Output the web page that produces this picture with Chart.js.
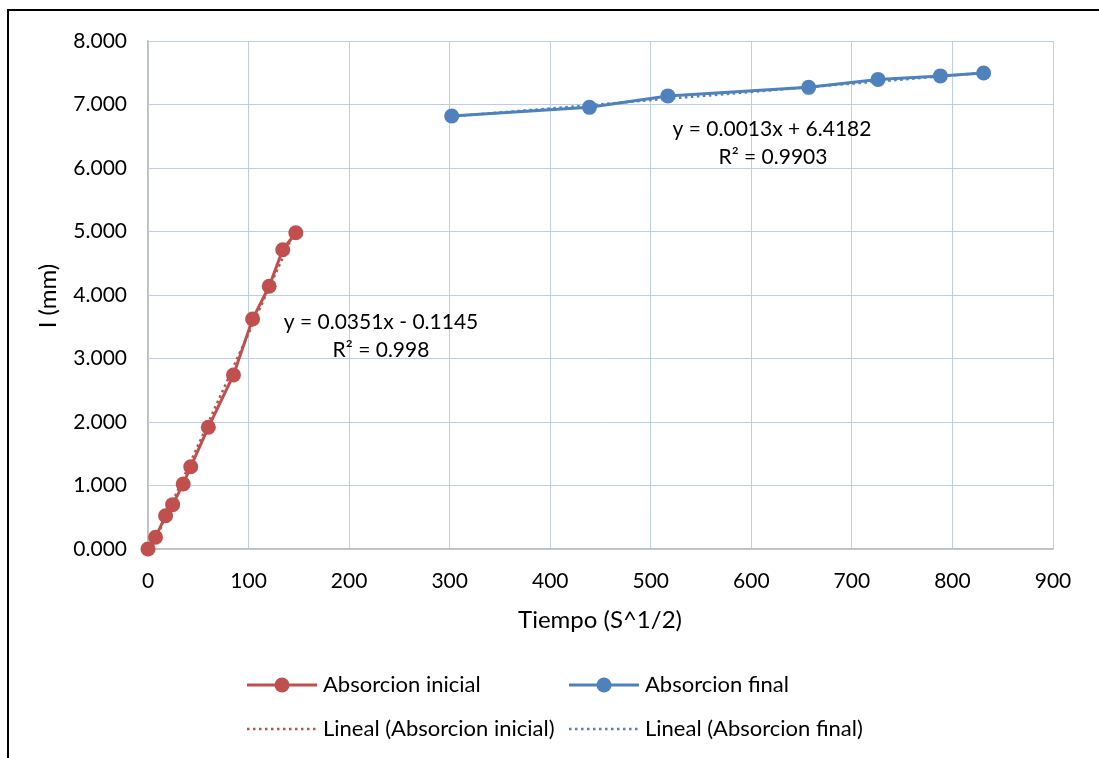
<!DOCTYPE html>
<html>
<head>
<meta charset="utf-8">
<script src="https://cdn.jsdelivr.net/npm/chart.js@4.4.0/dist/chart.umd.min.js"></script>
<style>
    html, body { margin: 0; padding: 0; background: #fff; }
    #wrap { width: 1099px; height: 758px; }
</style>
</head>
<body>
<div id="wrap"><canvas id="chart" width="1099" height="758"></canvas></div>
<script>
// Tiempo (S^1/2) and I (mm)
const initialX = [0, 7.5, 17.5, 24.5, 35, 42.5, 60, 85, 104, 120.5, 134, 147]
const initialY = [0.000, 0.184, 0.524, 0.698, 1.024, 1.296, 1.917, 2.740, 3.622, 4.137, 4.713, 4.980]
const finalX = [302, 439, 517, 657, 726, 788, 831]
const finalY = [6.820, 6.955, 7.135, 7.270, 7.395, 7.450, 7.495]

// trendline end points (from the equations shown on the chart)
const trendInitialX = [0, 147]
const trendInitialY = [-0.1145, 5.045]
const trendFinalX = [302, 831]
const trendFinalY = [6.811, 7.499]

const xTicks = [0, 100, 200, 300, 400, 500, 600, 700, 800, 900]
const yTicks = [0, 1, 2, 3, 4, 5, 6, 7, 8]

const seriesNames = ['Absorcion inicial', 'Absorcion final', 'Lineal (Absorcion inicial)', 'Lineal (Absorcion final)']
const equations = [
    ['y = 0.0351x - 0.1145', 'R\u00b2 = 0.998'],
    ['y = 0.0013x + 6.4182', 'R\u00b2 = 0.9903']
]

const RED = '#C0504D'
const BLUE = '#4F81BD'
const GRID = '#bccfe7'
const FONT = 'Lato'

function toPoints(xs, ys) {
    return xs.map((x, i) => ({ x: x, y: ys[i] }))
}

// frame, titles, equation labels and legend
const decor = {
    id: 'decor',
    beforeDraw(chart) {
        const ctx = chart.ctx
        ctx.save()
        ctx.fillStyle = '#fff'
        ctx.fillRect(0, 0, chart.width, chart.height)
        ctx.restore()
    },
    afterDraw(chart) {
        const ctx = chart.ctx
        ctx.save()
        // outer frame
        ctx.strokeStyle = '#000'
        ctx.lineWidth = 2
        ctx.beginPath()
        ctx.moveTo(8, 758)
        ctx.lineTo(8, 10)
        ctx.lineTo(1099, 10)
        ctx.stroke()

        ctx.fillStyle = '#000'
        // axis titles
        ctx.font = '24px ' + FONT
        ctx.textAlign = 'center'
        ctx.textBaseline = 'middle'
        ctx.fillText('Tiempo (S^1/2)', 600, 620)
        ctx.save()
        ctx.translate(48, 296)
        ctx.rotate(-Math.PI / 2)
        ctx.fillText('I (mm)', 0, 0)
        ctx.restore()

        // equation labels
        ctx.font = '21px ' + FONT
        ctx.textBaseline = 'alphabetic'
        ctx.fillText(equations[0][0], 381, 329)
        ctx.fillText(equations[0][1], 381, 357)
        ctx.fillText(equations[1][0], 772, 136)
        ctx.fillText(equations[1][1], 773, 164)

        // legend
        const items = [
            { x: 247, y: 685, color: RED, dotted: false },
            { x: 569, y: 685, color: BLUE, dotted: false },
            { x: 247, y: 729, color: RED, dotted: true },
            { x: 569, y: 729, color: BLUE, dotted: true }
        ]
        items.forEach((it, i) => {
            ctx.strokeStyle = it.color
            if (it.dotted) {
                ctx.lineWidth = 2.5
                ctx.setLineDash([2.5, 3.5])
            } else {
                ctx.lineWidth = 3
                ctx.setLineDash([])
            }
            ctx.beginPath()
            ctx.moveTo(it.x, it.y)
            ctx.lineTo(it.x + 70, it.y)
            ctx.stroke()
            ctx.setLineDash([])
            if (!it.dotted) {
                ctx.fillStyle = it.color
                ctx.beginPath()
                ctx.arc(it.x + 35, it.y, 7.5, 0, Math.PI * 2)
                ctx.fill()
            }
            ctx.fillStyle = '#000'
            ctx.font = '22px ' + FONT
            ctx.textAlign = 'left'
            ctx.textBaseline = 'middle'
            ctx.fillText(seriesNames[i], it.x + 76, it.y)
        })
        ctx.restore()
    }
}

const ctx = document.getElementById('chart').getContext('2d')
const myChart = new Chart(ctx, {
    type: 'scatter',
    data: {
        datasets: [
            {
                label: seriesNames[0],
                data: toPoints(initialX, initialY),
                showLine: true,
                borderColor: RED,
                backgroundColor: RED,
                borderWidth: 3,
                pointRadius: 7.5,
                pointBorderWidth: 0,
                clip: false,
                order: 1
            },
            {
                label: seriesNames[1],
                data: toPoints(finalX, finalY),
                showLine: true,
                borderColor: BLUE,
                backgroundColor: BLUE,
                borderWidth: 3,
                pointRadius: 7.5,
                pointBorderWidth: 0,
                clip: false,
                order: 1
            },
            {
                label: seriesNames[2],
                data: toPoints(trendInitialX, trendInitialY),
                showLine: true,
                borderColor: RED,
                borderWidth: 2.5,
                borderDash: [2.5, 3.5],
                pointRadius: 0,
                order: 2
            },
            {
                label: seriesNames[3],
                data: toPoints(trendFinalX, trendFinalY),
                showLine: true,
                borderColor: BLUE,
                borderWidth: 2.5,
                borderDash: [2.5, 3.5],
                pointRadius: 0,
                order: 2
            }
        ]
    },
    options: {
        responsive: false,
        animation: false,
        layout: {
            padding: { left: 48, top: 41, right: 46, bottom: 159 }
        },
        scales: {
            x: {
                type: 'linear',
                min: 0,
                max: 900,
                afterFit: (scale) => { scale.height = 50 },
                afterBuildTicks: (scale) => { scale.ticks = xTicks.map(v => ({ value: v })) },
                ticks: {
                    color: '#000',
                    font: { family: FONT, size: 21 },
                    padding: 20,
                    maxRotation: 0
                },
                grid: { color: GRID, lineWidth: 1, drawTicks: false },
                border: { color: '#bfbfbf', width: 1.5 }
            },
            y: {
                type: 'linear',
                min: 0,
                max: 8,
                afterFit: (scale) => { scale.width = 100 },
                afterBuildTicks: (scale) => { scale.ticks = yTicks.map(v => ({ value: v })) },
                ticks: {
                    color: '#000',
                    font: { family: FONT, size: 21 },
                    padding: 21,
                    callback: (v) => v.toFixed(3)
                },
                grid: { color: GRID, lineWidth: 1, drawTicks: false },
                border: { color: '#bfbfbf', width: 1.5 }
            }
        },
        plugins: {
            legend: { display: false },
            tooltip: { enabled: false }
        }
    },
    plugins: [decor]
})
</script>
</body>
</html>
